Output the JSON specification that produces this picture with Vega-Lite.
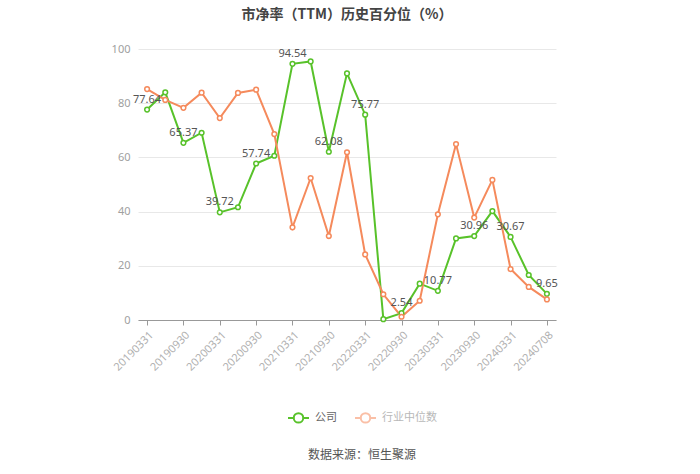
{
  "$schema": "https://vega.github.io/schema/vega-lite/v6.json",
  "autosize": {"type": "none"},
  "width": 418,
  "height": 271,
  "padding": {"left": 138, "top": 49, "right": 144, "bottom": 154},
  "background": "white",
  "title": {
    "text": "市净率（TTM）历史百分位（%）",
    "anchor": "middle",
    "fontSize": 14,
    "fontWeight": "bold",
    "color": "#444444",
    "font": "Noto Sans CJK SC",
    "offset": 21
  },
  "data": {
    "values": [
      {"date": "20190331", "series": "公司", "value": 77.64},
      {"date": "20190630", "series": "公司", "value": 84.0},
      {"date": "20190930", "series": "公司", "value": 65.37},
      {"date": "20191231", "series": "公司", "value": 69.1},
      {"date": "20200331", "series": "公司", "value": 39.72},
      {"date": "20200630", "series": "公司", "value": 41.6},
      {"date": "20200930", "series": "公司", "value": 57.74},
      {"date": "20201231", "series": "公司", "value": 60.6},
      {"date": "20210331", "series": "公司", "value": 94.54},
      {"date": "20210630", "series": "公司", "value": 95.4},
      {"date": "20210930", "series": "公司", "value": 62.08},
      {"date": "20211231", "series": "公司", "value": 91.0},
      {"date": "20220331", "series": "公司", "value": 75.77},
      {"date": "20220630", "series": "公司", "value": 0.3},
      {"date": "20220930", "series": "公司", "value": 2.54},
      {"date": "20221231", "series": "公司", "value": 13.4},
      {"date": "20230331", "series": "公司", "value": 10.77},
      {"date": "20230630", "series": "公司", "value": 30.1},
      {"date": "20230930", "series": "公司", "value": 30.96},
      {"date": "20231231", "series": "公司", "value": 40.2},
      {"date": "20240331", "series": "公司", "value": 30.67},
      {"date": "20240630", "series": "公司", "value": 16.6},
      {"date": "20240708", "series": "公司", "value": 9.65},
      {"date": "20190331", "series": "行业中位数", "value": 85.2},
      {"date": "20190630", "series": "行业中位数", "value": 81.2},
      {"date": "20190930", "series": "行业中位数", "value": 78.3},
      {"date": "20191231", "series": "行业中位数", "value": 83.9},
      {"date": "20200331", "series": "行业中位数", "value": 74.5},
      {"date": "20200630", "series": "行业中位数", "value": 83.8},
      {"date": "20200930", "series": "行业中位数", "value": 85.0},
      {"date": "20201231", "series": "行业中位数", "value": 68.6},
      {"date": "20210331", "series": "行业中位数", "value": 34.2},
      {"date": "20210630", "series": "行业中位数", "value": 52.4},
      {"date": "20210930", "series": "行业中位数", "value": 31.0},
      {"date": "20211231", "series": "行业中位数", "value": 61.9},
      {"date": "20220331", "series": "行业中位数", "value": 24.2},
      {"date": "20220630", "series": "行业中位数", "value": 9.5},
      {"date": "20220930", "series": "行业中位数", "value": 1.2},
      {"date": "20221231", "series": "行业中位数", "value": 7.1},
      {"date": "20230331", "series": "行业中位数", "value": 39.0},
      {"date": "20230630", "series": "行业中位数", "value": 64.9},
      {"date": "20230930", "series": "行业中位数", "value": 37.8},
      {"date": "20231231", "series": "行业中位数", "value": 51.7},
      {"date": "20240331", "series": "行业中位数", "value": 18.8},
      {"date": "20240630", "series": "行业中位数", "value": 12.2},
      {"date": "20240708", "series": "行业中位数", "value": 7.6}
    ]
  },
  "encoding": {
    "x": {
      "field": "date",
      "type": "ordinal",
      "sort": null,
      "scale": {"type": "point", "padding": 0.5},
      "axis": {
        "title": null,
        "values": ["20190331", "20190930", "20200331", "20200930", "20210331", "20210930", "20220331", "20220930", "20230331", "20230930", "20240331", "20240708"],
        "labelAngle": -45,
        "labelAlign": "right",
        "labelBaseline": "top",
        "labelColor": "#b0b0b0",
        "labelFontSize": 11,
        "labelFont": "Noto Sans",
        "labelPadding": 4,
        "domainColor": "#999999",
        "tickColor": "#999999",
        "tickSize": 5,
        "grid": false
      }
    },
    "y": {
      "field": "value",
      "type": "quantitative",
      "scale": {"domain": [0, 100]},
      "axis": {
        "title": null,
        "values": [0, 20, 40, 60, 80, 100],
        "domain": false,
        "ticks": false,
        "labelColor": "#a0a0a0",
        "labelFontSize": 11,
        "labelFont": "Noto Sans",
        "labelPadding": 8,
        "gridColor": "#e8e8e8"
      }
    },
    "stroke": {
      "field": "series",
      "type": "nominal",
      "scale": {"domain": ["公司", "行业中位数"], "range": ["#58c22a", "#f58a5c"]},
      "legend": {
        "orient": "none",
        "direction": "horizontal",
        "legendX": 149,
        "legendY": 357,
        "title": "数据来源：恒生聚源",
        "titleOrient": "bottom",
        "titleAnchor": "middle",
        "titlePadding": 23,
        "titleFontSize": 12,
        "titleFontWeight": "normal",
        "titleColor": "#555555",
        "titleFont": "Noto Sans CJK SC",
        "labelFont": "Noto Sans CJK SC",
        "labelFontSize": 11,
        "labelColor": "#666666",
        "symbolType": "M-1,0L-0.45,0M0.45,0L1,0M-0.45,0A0.45,0.45 0 1,1 0.45,0A0.45,0.45 0 1,1 -0.45,0Z",
        "symbolSize": 440,
        "symbolStrokeWidth": 2,
        "symbolFillColor": "white",
        "columnPadding": 14,
        "labelOffset": 5,
        "encode": {
          "symbols": {
            "enter": {"fill": {"value": "white"}},
            "update": {
              "strokeOpacity": {"signal": "datum.value === '公司' ? 1 : 0.55"},
              "fill": {"value": "white"}
            }
          },
          "labels": {"update": {"fill": {"signal": "datum.value === '公司' ? '#666666' : '#b8b8b8'"}}}
        }
      }
    }
  },
  "layer": [
    {
      "mark": {"type": "line", "strokeWidth": 2},
      "encoding": {}
    },
    {
      "mark": {"type": "point", "shape": "circle", "filled": false, "fill": "white", "fillOpacity": 1, "size": 22, "strokeWidth": 1.5, "opacity": 1},
      "encoding": {}
    },
    {
      "transform": [
        {"filter": {"field": "series", "equal": "公司"}},
        {"filter": {"field": "date", "oneOf": ["20190331", "20190930", "20200331", "20200930", "20210331", "20210930", "20220331", "20220930", "20230331", "20230930", "20240331", "20240708"]}}
      ],
      "mark": {"type": "text", "baseline": "bottom", "dy": -5, "fontSize": 11, "font": "Noto Sans", "color": "#555555"},
      "encoding": {
        "text": {"field": "value", "type": "quantitative", "format": ".2f"},
        "stroke": {"value": null}
      }
    }
  ],
  "config": {
    "view": {"stroke": null}
  }
}
